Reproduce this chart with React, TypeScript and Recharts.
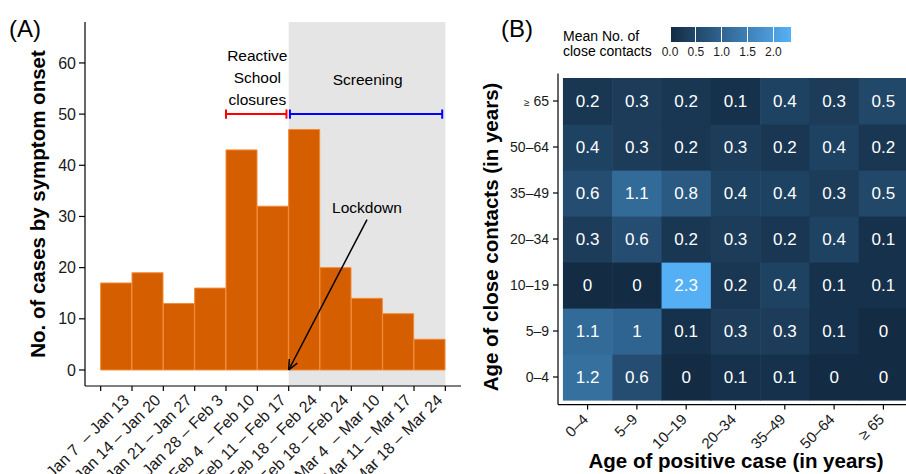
import React from 'react';
import {
  ComposedChart, Bar, XAxis, YAxis, ReferenceArea, ReferenceLine, ReferenceDot,
  ScatterChart, Scatter,
} from 'recharts';

// ---- panel A data ----
const WEEKS = [
  'Jan 7  – Jan 13', 'Jan 14 – Jan 20', 'Jan 21 – Jan 27', 'Jan 28 – Feb 3',
  'Feb 4  – Feb 10', 'Feb 11 – Feb 17', 'Feb 18 – Feb 24', 'Feb 18 – Feb 24',
  'Mar 4  – Mar 10', 'Mar 11 – Mar 17', 'Mar 18 – Mar 24',
];
const CASES = [17, 19, 13, 16, 43, 32, 47, 20, 14, 11, 6];
const CASE_TICKS = [0, 10, 20, 30, 40, 50, 60];
const WEEK_EDGES = [0, 1, 2, 3, 4, 5, 6, 7, 8, 9, 10, 11];
const SCHOOL_CLOSURE = [4, 5.93];
const SCREENING = [6.04, 10.9];
const SCREENING_SHADE = [6, 11];
const LOCKDOWN_WEEK = 6;

// ---- panel B data ----
const AGE_GROUPS = ['0–4', '5–9', '10–19', '20–34', '35–49', '50–64', '≥ 65'];
// rows: age of close contact (0–4 first), columns: age of positive case
const CONTACTS_0_4 = [1.2, 0.6, 0, 0.1, 0.1, 0, 0];
const CONTACTS_5_9 = [1.1, 1, 0.1, 0.3, 0.3, 0.1, 0];
const CONTACTS_10_19 = [0, 0, 2.3, 0.2, 0.4, 0.1, 0.1];
const CONTACTS_20_34 = [0.3, 0.6, 0.2, 0.3, 0.2, 0.4, 0.1];
const CONTACTS_35_49 = [0.6, 1.1, 0.8, 0.4, 0.4, 0.3, 0.5];
const CONTACTS_50_64 = [0.4, 0.3, 0.2, 0.3, 0.2, 0.4, 0.2];
const CONTACTS_65 = [0.2, 0.3, 0.2, 0.1, 0.4, 0.3, 0.5];
const CONTACT_ROWS = [CONTACTS_0_4, CONTACTS_5_9, CONTACTS_10_19, CONTACTS_20_34, CONTACTS_35_49, CONTACTS_50_64, CONTACTS_65];
const COLOR_MAX = 2.34;
const LEGEND_TICKS = [0, 0.5, 1, 1.5, 2];

const FONT = '"Liberation Sans", Arial, Helvetica, sans-serif';
const LOW = [0x13, 0x2b, 0x43];
const HIGH = [0x56, 0xb1, 0xf7];

const colorFor = (v: number) => {
  const t = Math.max(0, Math.min(1, v / COLOR_MAX));
  const c = LOW.map((l, i) => Math.round(l + (HIGH[i] - l) * t));
  return `rgb(${c[0]},${c[1]},${c[2]})`;
};

const histData = CASES.map((v, i) => ({ x: i + 0.5, cases: v, week: WEEKS[i] }));

const heatData = CONTACT_ROWS.flatMap((row, y) => row.map((v, x) => ({ x, y, value: v })));

// heatmap plot area
const HM_W = 355;
const HM_H = 331.2;
const CELL_W = HM_W / 7.2;
const CELL_H = HM_H / 7.2;

const WeekTick = (props: any) => {
  const { x, y, payload } = props;
  const label = payload.value >= 1 ? WEEKS[payload.value - 1] : '';
  if (!label) return null;
  const ax = x - 10;
  const ay = y;
  return (
    <text x={ax} y={ay} dy="0.72em" textAnchor="end" fontSize={16} fill="#1a1a1a"
      fontFamily={FONT} transform={`rotate(-45, ${ax}, ${ay})`} style={{ whiteSpace: 'pre' }}>
      {label}
    </text>
  );
};

const AgeTickX = (props: any) => {
  const { x, y, payload } = props;
  const ax = x - 6;
  const ay = y + 1;
  return (
    <text x={ax} y={ay} dy="0.72em" textAnchor="end" fontSize={15} fill="#1a1a1a"
      fontFamily={FONT} transform={`rotate(-45, ${ax}, ${ay})`}>
      {AGE_GROUPS[payload.value]}
    </text>
  );
};

const AgeTickY = (props: any) => {
  const { x, y, payload } = props;
  const label = AGE_GROUPS[payload.value];
  return (
    <text x={x} y={y} dy="0.36em" textAnchor="end" fontSize={14} fill="#1a1a1a" fontFamily={FONT}>
      {label.startsWith('≥') ? (<><tspan fontSize={10}>≥</tspan> {label.slice(2)}</>) : label}
    </text>
  );
};

const HeatCell = (props: any) => {
  const { cx, cy, payload } = props;
  return (
    <g>
      <rect x={cx - CELL_W / 2} y={cy - CELL_H / 2} width={CELL_W + 0.6} height={CELL_H + 0.6}
        fill={colorFor(payload.value)} />
      <text x={cx} y={cy} dy="0.36em" textAnchor="middle" fill="#fff" fontSize={17} fontFamily={FONT}>
        {String(payload.value)}
      </text>
    </g>
  );
};

const ArrowLine = (props: any) => {
  const { x1, y1, x2, y2 } = props;
  const a = Math.atan2(y2 - y1, x2 - x1);
  const len = 11;
  const spread = 0.42;
  return (
    <g stroke="#000" strokeWidth={1.5} fill="none">
      <line x1={x1} y1={y1} x2={x2} y2={y2} />
      <line x1={x2} y1={y2} x2={x2 - len * Math.cos(a - spread)} y2={y2 - len * Math.sin(a - spread)} />
      <line x1={x2} y1={y2} x2={x2 - len * Math.cos(a + spread)} y2={y2 - len * Math.sin(a + spread)} />
    </g>
  );
};

const annoText = (text: string, size = 15.5) => (p: any) => (
  <text x={p.cx} y={p.cy} textAnchor="middle" fontSize={size} fontFamily={FONT} fill="#000">{text}</text>
);

const errorBar = (range: number[], y: number, color: string, key: string) => [
  <ReferenceLine key={key + 'h'} segment={[{ x: range[0], y }, { x: range[1], y }]} stroke={color} strokeWidth={2} ifOverflow="visible" />,
  <ReferenceLine key={key + 'l'} segment={[{ x: range[0], y: y - 0.9 }, { x: range[0], y: y + 0.9 }]} stroke={color} strokeWidth={2} ifOverflow="visible" />,
  <ReferenceLine key={key + 'r'} segment={[{ x: range[1], y: y - 0.9 }, { x: range[1], y: y + 0.9 }]} stroke={color} strokeWidth={2} ifOverflow="visible" />,
];

export default function App() {
  const legendLeft = 670;
  const legendW = 121;
  return (
    <div style={{ position: 'absolute', left: 0, top: 0, width: 906, height: 474, overflow: 'hidden', background: '#fff', fontFamily: FONT }}>
      <div style={{ position: 'absolute', left: 0, top: 0 }}>
        <ComposedChart width={480} height={474} data={histData} barCategoryGap={0}
          margin={{ top: 22, right: 19, bottom: 0, left: 0 }}>
          <ReferenceArea x1={SCREENING_SHADE[0]} x2={SCREENING_SHADE[1]} fill="#E5E5E5" fillOpacity={1} stroke="none" />
          <XAxis type="number" dataKey="x" domain={[-0.5, 11.5]} ticks={WEEK_EDGES} interval={0}
            allowDataOverflow height={88} tickSize={5} tick={<WeekTick />} stroke="#000" strokeWidth={1.2} />
          <YAxis type="number" domain={[-3.13, 68]} ticks={CASE_TICKS} interval={0} allowDataOverflow
            width={85} tickSize={6} tickMargin={3} stroke="#000" strokeWidth={1.2}
            tick={{ fontSize: 16, fill: '#1a1a1a', fontFamily: FONT }} />
          <Bar dataKey="cases" fill="#D55E00" stroke="#F28A34" strokeWidth={1} isAnimationActive={false} />
          {errorBar(SCHOOL_CLOSURE, 50, '#FF0000', 'sc')}
          {errorBar(SCREENING, 50, '#0000FF', 'scr')}
          <ReferenceDot x={5} y={60.4} r={0} shape={annoText('Reactive')} ifOverflow="visible" />
          <ReferenceDot x={5} y={56.1} r={0} shape={annoText('School')} ifOverflow="visible" />
          <ReferenceDot x={5} y={51.7} r={0} shape={annoText('closures')} ifOverflow="visible" />
          <ReferenceDot x={8.52} y={55.7} r={0} shape={annoText('Screening')} ifOverflow="visible" />
          <ReferenceDot x={8.5} y={30.6} r={0} shape={annoText('Lockdown')} ifOverflow="visible" />
          <ReferenceLine segment={[{ x: 8.5, y: 29.4 }, { x: LOCKDOWN_WEEK, y: 0 }]} shape={<ArrowLine />} ifOverflow="visible" />
        </ComposedChart>
      </div>

      <div style={{ position: 'absolute', left: 480, top: 0 }}>
        <ScatterChart width={440} height={474} margin={{ top: 73.4, right: 440 - 78 - HM_W, bottom: 0, left: 0 }}>
          <XAxis type="number" dataKey="x" domain={[-0.6, 6.6]} ticks={[0, 1, 2, 3, 4, 5, 6]} interval={0}
            allowDataOverflow height={474 - 73.4 - HM_H} tickSize={5} tick={<AgeTickX />} stroke="#000" strokeWidth={1.2} />
          <YAxis type="number" dataKey="y" domain={[-0.6, 6.6]} ticks={[0, 1, 2, 3, 4, 5, 6]} interval={0}
            allowDataOverflow width={78} tickSize={5} tickMargin={4} tick={<AgeTickY />} stroke="#000" strokeWidth={1.2} />
          <Scatter data={heatData} shape={<HeatCell />} isAnimationActive={false} />
        </ScatterChart>
      </div>

      {/* colour bar legend */}
      <div style={{ position: 'absolute', left: legendLeft, top: 27, width: legendW, height: 15,
        background: `linear-gradient(to right, ${colorFor(0)}, ${colorFor(COLOR_MAX)})` }}>
        {LEGEND_TICKS.map((t) => (
          <div key={t} style={{ position: 'absolute', left: (t / COLOR_MAX) * legendW - 0.5, top: 0, width: 1, height: 15, background: '#fff' }} />
        ))}
      </div>

      <svg width={906} height={474} style={{ position: 'absolute', left: 0, top: 0, pointerEvents: 'none' }} fontFamily={FONT}>
        {LEGEND_TICKS.map((t) => (
          <text key={t} x={legendLeft + (t / COLOR_MAX) * legendW} y={56} textAnchor="middle" fontSize={12} fill="#1a1a1a">
            {t.toFixed(1)}
          </text>
        ))}
        <text x={563} y={41} fontSize={14} fill="#000">Mean No. of</text>
        <text x={563} y={56} fontSize={14} fill="#000">close contacts</text>

        <text x={9} y={37} fontSize={24} fill="#000">(A)</text>
        <text x={501} y={37} fontSize={24} fill="#000">(B)</text>

        <text transform="translate(45,204) rotate(-90)" textAnchor="middle" fontSize={20.5} fontWeight="bold" fill="#000">
          No. of cases by symptom onset
        </text>
        <text transform="translate(498,237) rotate(-90)" textAnchor="middle" fontSize={20.5} fontWeight="bold" fill="#000">
          Age of close contacts (in years)
        </text>
        <text x={736} y={468} textAnchor="middle" fontSize={20.5} fontWeight="bold" fill="#000">
          Age of positive case (in years)
        </text>
      </svg>
    </div>
  );
}
